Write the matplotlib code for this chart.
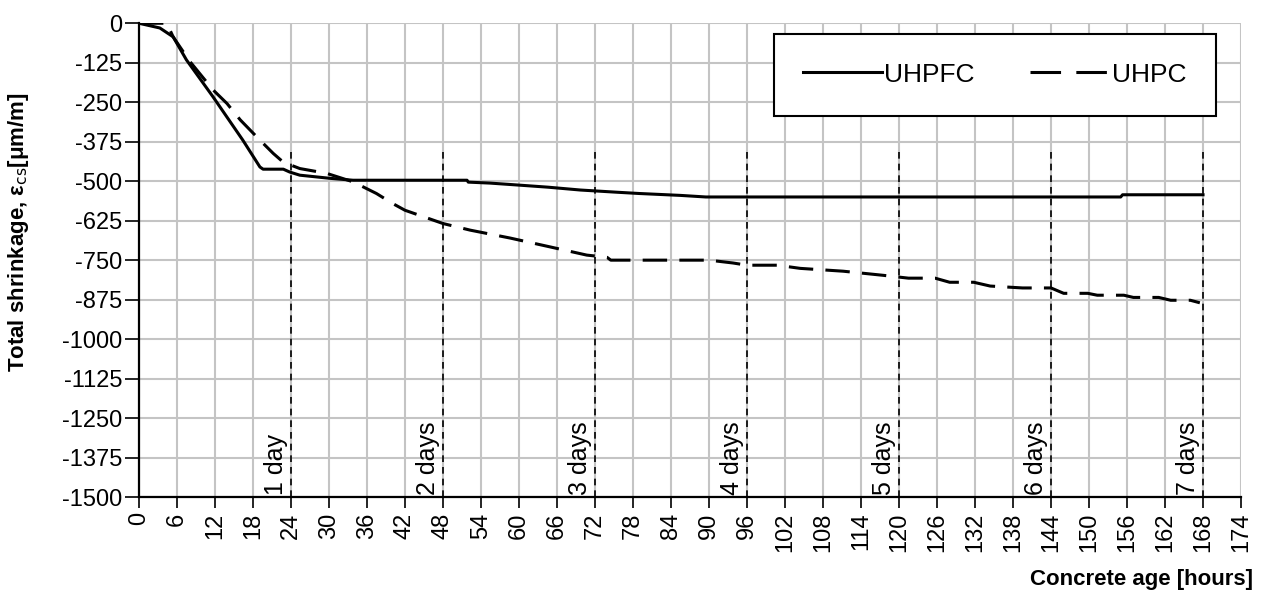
import matplotlib
matplotlib.use("Agg")
import matplotlib.pyplot as plt
from matplotlib.lines import Line2D
import numpy as np

plt.rcParams['font.family'] = ['Liberation Sans', 'DejaVu Sans']
plt.rcParams['axes.unicode_minus'] = False

# UHPFC (solid), hours vs total shrinkage [um/m]
uhpfc_h = [0, 3.3, 5.4, 7.5, 11.7, 16.4, 19.1, 19.6, 22.8, 23.8, 25.4, 30.2, 33.8,
           51.8, 52.0, 55.4, 59.7, 64.6, 69.7, 75.5, 79.0, 85.5, 89.5, 155.0, 155.3, 168.0]
uhpfc_v = [0, -15, -43, -116, -233, -370, -455, -462, -462, -471, -481, -491, -497,
           -497, -503, -506, -512, -519, -528, -535, -539, -545, -550, -550, -543, -543]

# UHPC (dashed)
uhpc_h = [0, 4.4, 5.4, 8.0, 11.7, 13.9, 16.0, 19.1, 21.2, 22.8, 25.4, 29.6, 33.8, 37.5,
          40.0, 42.0, 48.0, 52.3, 58.6, 64.9, 70.7, 73.9, 74.5, 90.0, 93.8, 96.0, 100.8,
          104.4, 111.2, 117.5, 121.5, 125.7, 128.0, 131.8, 134.4, 139.5, 144.0, 146.0,
          149.8, 151.3, 155.5, 157.0, 161.0, 162.9, 166.0, 167.5]
uhpc_v = [0, 0, -43, -120, -211, -254, -306, -370, -412, -440, -460, -475, -502, -539,
          -570, -592, -634, -655, -680, -708, -734, -741, -750, -750, -759, -766, -766,
          -776, -785, -798, -807, -807, -820, -820, -832, -838, -838, -855,
          -855, -861, -861, -868, -868, -877, -877, -885]

day_hours = [24, 48, 72, 96, 120, 144, 168]
day_labels = ['1 day', '2 days', '3 days', '4 days', '5 days', '6 days', '7 days']
day_line_top = [-402, -395, -395, -395, -395, -395, -395]

fig = plt.figure(figsize=(12.63, 5.96), dpi=100)
ax = fig.add_axes([0.110, 0.166, 0.8726, 0.795])

ax.plot(uhpfc_h, uhpfc_v, '-', color='black', lw=2.2)
ax.plot(uhpc_h, uhpc_v, '--', color='black', lw=2.2, dashes=(8, 4))

for h, lab, top in zip(day_hours, day_labels, day_line_top):
    ax.plot([h, h], [-1500, top], color='black', lw=1.2, dashes=(4, 3))
    ax.text(h - 0.4, -1492, lab, rotation=90, ha='right', va='bottom', fontsize=18)

ax.set_xlim(0, 174)
ax.set_ylim(-1500, 0)
ax.set_xticks(np.arange(0, 175, 6))
ax.set_yticks(np.arange(-1500, 1, 125))
ax.tick_params(axis='x', labelrotation=90, labelsize=17, length=8, width=1.2, pad=3)
ax.tick_params(axis='y', labelsize=17, length=10, width=1.2, pad=2)
ax.grid(True, color='#c4c4c4', lw=1.5)
ax.set_axisbelow(True)
for s in ['top', 'right']:
    ax.spines[s].set_visible(False)
for s in ['left', 'bottom']:
    ax.spines[s].set_linewidth(1.6)

ax.set_ylabel('Total shrinkage, ε$_\\mathrm{cs}$[μm/m]', fontsize=16, fontweight='bold')
ax.yaxis.set_label_coords(-0.098, 0.56)
fig.text(0.992, 0.027, 'Concrete age [hours]', ha='right', va='center',
         fontsize=16, fontweight='bold')

# legend handles (dash pattern tuned so two full dashes show)
handles = [Line2D([], [], color='black', lw=2.2),
           Line2D([], [], color='black', lw=2.2, dashes=(10, 5))]
leg = ax.legend(handles, ['UHPFC', 'UHPC'], loc='upper right', bbox_to_anchor=(0.977, 0.978),
                ncol=2, fontsize=19, frameon=True, fancybox=False, edgecolor='black',
                framealpha=1, handlelength=3.0, columnspacing=2.1, borderpad=1.1,
                handletextpad=0.1, borderaxespad=0)
leg.get_frame().set_linewidth(1.5)

fig.savefig('out.png', dpi=100)
